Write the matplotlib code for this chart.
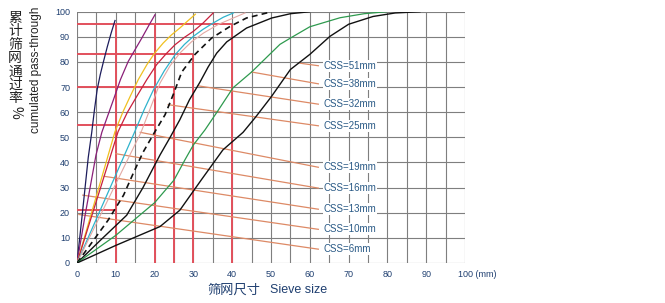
import matplotlib
matplotlib.use("Agg")
import matplotlib.pyplot as plt

# ---------------- data ----------------
# gradation curves (sieve size mm, cumulative passing %)
c6_x  = [0, 1.4, 2.9, 3.8, 4.5, 5.2, 6.0, 6.8, 7.8, 8.8, 9.8]
c6_y  = [0, 20, 42, 52, 61, 69, 75, 80, 86, 91.5, 96.5]
c10_x = [0, 2.2, 4.9, 6.4, 7.9, 9.4, 11.2, 13.2, 15.0, 16.7, 18.5, 20.1]
c10_y = [0, 20, 43, 52, 58.5, 65, 73, 80.2, 85, 89.5, 94.5, 98.8]
c13_x = [0, 9.8, 11.8, 13.7, 15.8, 18.0, 20.0, 22.2, 24.3, 26.5, 28.3, 30.5]
c13_y = [0, 52.3, 60, 66.3, 73, 78.9, 83.5, 87.5, 90.7, 93.5, 96, 99]
c16_x = [0, 10.6, 13.0, 15.4, 18.0, 20.5, 23.0, 25.3, 27.7, 30.0, 32.5, 35.1]
c16_y = [0, 52.3, 60, 66.3, 73, 78.9, 83.3, 86.9, 89.8, 92.2, 95.5, 99.5]
c19_x = [0, 14.9, 17.3, 19.7, 22.5, 25.3, 27.7, 30.0, 32.5, 35.1, 37.7, 40.3]
c19_y = [0, 52.3, 61, 68.9, 76.5, 82.9, 87, 90.2, 93, 95.5, 97.8, 99.5]
c22_x = [0, 16.5, 18.5, 21.4, 24.0, 26.5, 29.5, 32.6, 36.5, 40.3, 43.3]
c22_y = [0, 52, 60, 71.6, 78.5, 83.5, 88, 91.5, 95, 97.5, 99.5]
c25_x = [0, 8, 12, 14.5, 17, 20.1, 22.7, 24.8, 27.0, 30.4, 34.7, 39.4, 43.7, 50.2]
c25_y = [0, 17, 27, 35.7, 44, 52.3, 59, 67, 76, 83, 89.5, 94.1, 97.5, 100]
c32_x = [0, 6, 12.8, 17, 21.4, 24, 26.5, 29, 31.7, 33.8, 36, 38.6, 43.7, 50.2, 55, 60]
c32_y = [0, 9, 19, 30, 43, 50, 57, 65, 72, 78, 83.5, 88, 93.5, 97.5, 99.2, 100]
c38_x = [0, 10, 20, 25, 27.8, 30, 33, 36.5, 40.2, 45, 52.3, 55, 60, 67.8, 74, 79.8]
c38_y = [0, 11, 24, 33, 41, 47, 53, 61, 69.7, 76, 87, 89.5, 94, 97.6, 99.2, 100]
c51_x = [0, 10, 21.4, 26.5, 32, 37.6, 42.8, 46, 50, 55, 60, 65.2, 70, 76.3, 82, 88.4]
c51_y = [0, 7, 14.5, 21, 33, 45, 52, 58, 66, 77, 83, 90.2, 95, 98.1, 99.5, 100]

# CSS labels
css_labels = ["CSS=51mm", "CSS=38mm", "CSS=32mm", "CSS=25mm", "CSS=19mm",
              "CSS=16mm", "CSS=13mm", "CSS=10mm", "CSS=6mm"]
label_pct = [78.5, 71.3, 63.2, 54.6, 38.1, 29.8, 21.4, 13.4, 5.5]
leader_from_x = [57.5, 45, 31.2, 23.5, 16.3, 10, 7, 1.5, 0.5]
leader_from_y = [79.5, 76, 70.5, 63, 52, 43.5, 34.5, 27, 19.3]

# red reference lines (sieve size, passing %)
ref_size = [40, 30, 25, 20, 10]
ref_pct = [95, 83, 70, 55, 21]
ref_vert_top = [95, 83, 70, 95, 95]

x_ticks = [0, 10, 20, 30, 40, 50, 60, 70, 80, 90, 100]
y_ticks = [0, 10, 20, 30, 40, 50, 60, 70, 80, 90, 100]

# ---------------- figure ----------------
W, H = 665, 303
fig = plt.figure(figsize=(W / 100, H / 100), dpi=100)
fig.patch.set_facecolor("white")
left, right = 77 / W, 465 / W
top, bottom = 1 - 11.7 / H, 1 - 263 / H
ax = fig.add_axes([left, bottom, right - left, top - bottom])
ax.set_xlim(0, 100)
ax.set_ylim(0, 100)
for s in ax.spines.values():
    s.set_visible(False)

grid_c = "#7f7f7f"
for xv in range(0, 101, 5):
    ax.axvline(xv, color=grid_c, lw=0.8, zorder=1)
for yv in range(0, 101, 10):
    ax.axhline(yv, color=grid_c, lw=0.8, zorder=1)

red = "#e2505c"
for sx, sp, vt in zip(ref_size, ref_pct, ref_vert_top):
    ax.plot([0, sx], [sp, sp], color=red, lw=1.4, zorder=2, solid_capstyle="butt")
    ax.plot([sx, sx], [0, vt], color=red, lw=1.4, zorder=2, solid_capstyle="butt")

lead_c = "#dd8a66"
for lx, ly, ty in zip(leader_from_x, leader_from_y, label_pct):
    ax.plot([lx, 62.2], [ly, ty], color=lead_c, lw=0.9, zorder=3)

curves = [
    (c6_x, c6_y, "#1c1c5c", "-", 0.9),
    (c10_x, c10_y, "#8a1f78", "-", 0.9),
    (c13_x, c13_y, "#f0c020", "-", 0.9),
    (c16_x, c16_y, "#c8203c", "-", 0.9),
    (c19_x, c19_y, "#2fb3cc", "-", 0.9),
    (c22_x, c22_y, "#e3a9a4", "-", 0.8),
    (c25_x, c25_y, "#111111", (0, (3.5, 2.5)), 1.2),
    (c32_x, c32_y, "#111111", "-", 1.0),
    (c38_x, c38_y, "#2e9a4e", "-", 0.9),
    (c51_x, c51_y, "#111111", "-", 1.0),
]
for xs, ys, c, ls, lw in curves:
    ax.plot(xs, ys, color=c, ls=ls, lw=lw, zorder=4)

for lab, yp in zip(css_labels, label_pct):
    ax.text(63.5, yp, lab, fontsize=7, color="#2a5a86", va="center", ha="left",
            family="Liberation Sans", zorder=5,
            bbox=dict(facecolor="white", edgecolor="none", pad=0.6))

tick_c = "#1f3f70"
ax.set_xticks(x_ticks)
ax.set_yticks(y_ticks)
xt_labels = [str(v) for v in x_ticks]
xt_labels[-1] = ""
ax.set_xticklabels(xt_labels, fontsize=6.5, color=tick_c, family="Liberation Sans")
ax.set_yticklabels([str(v) for v in y_ticks], fontsize=6.5, color=tick_c, family="Liberation Sans")
ax.tick_params(length=0, pad=5)
ax.annotate(f"{x_ticks[-1]} (mm)", xy=(x_ticks[-1], 0), xycoords="data",
            xytext=(-7.5, -7), textcoords="offset pixels",
            fontsize=6.5, color=tick_c, family="Liberation Sans",
            ha="left", va="top", annotation_clip=False)

# y-axis titles
cjk = ["Noto Sans CJK SC", "DejaVu Sans"]
chars = "累计筛网通过率"
for i, ch in enumerate(chars):
    fig.text(15 / W, 1 - (18 + i * 13.4) / H, ch, fontsize=10, color="#222222",
             ha="center", va="center", family=cjk)
fig.text(15 / W, 1 - (19 + 7 * 13.4) / H, "%", fontsize=10, color="#222222",
         ha="center", va="center", rotation=-90, family=cjk)
fig.text(36 / W, 1 - 70 / H, "cumulated pass-through", fontsize=8.5, color="#222222",
         rotation=90, ha="center", va="center", family="Liberation Sans")

# x-axis title
fig.text(207 / W, 1 - 290 / H, "筛网尺寸", fontsize=9.5, color="#1f3f70",
         ha="left", va="center", family=cjk)
fig.text(270 / W, 1 - 290 / H, "Sieve size", fontsize=9, color="#1f3f70",
         ha="left", va="center", family="Liberation Sans")

fig.savefig("out.png", dpi=100, facecolor="white")
